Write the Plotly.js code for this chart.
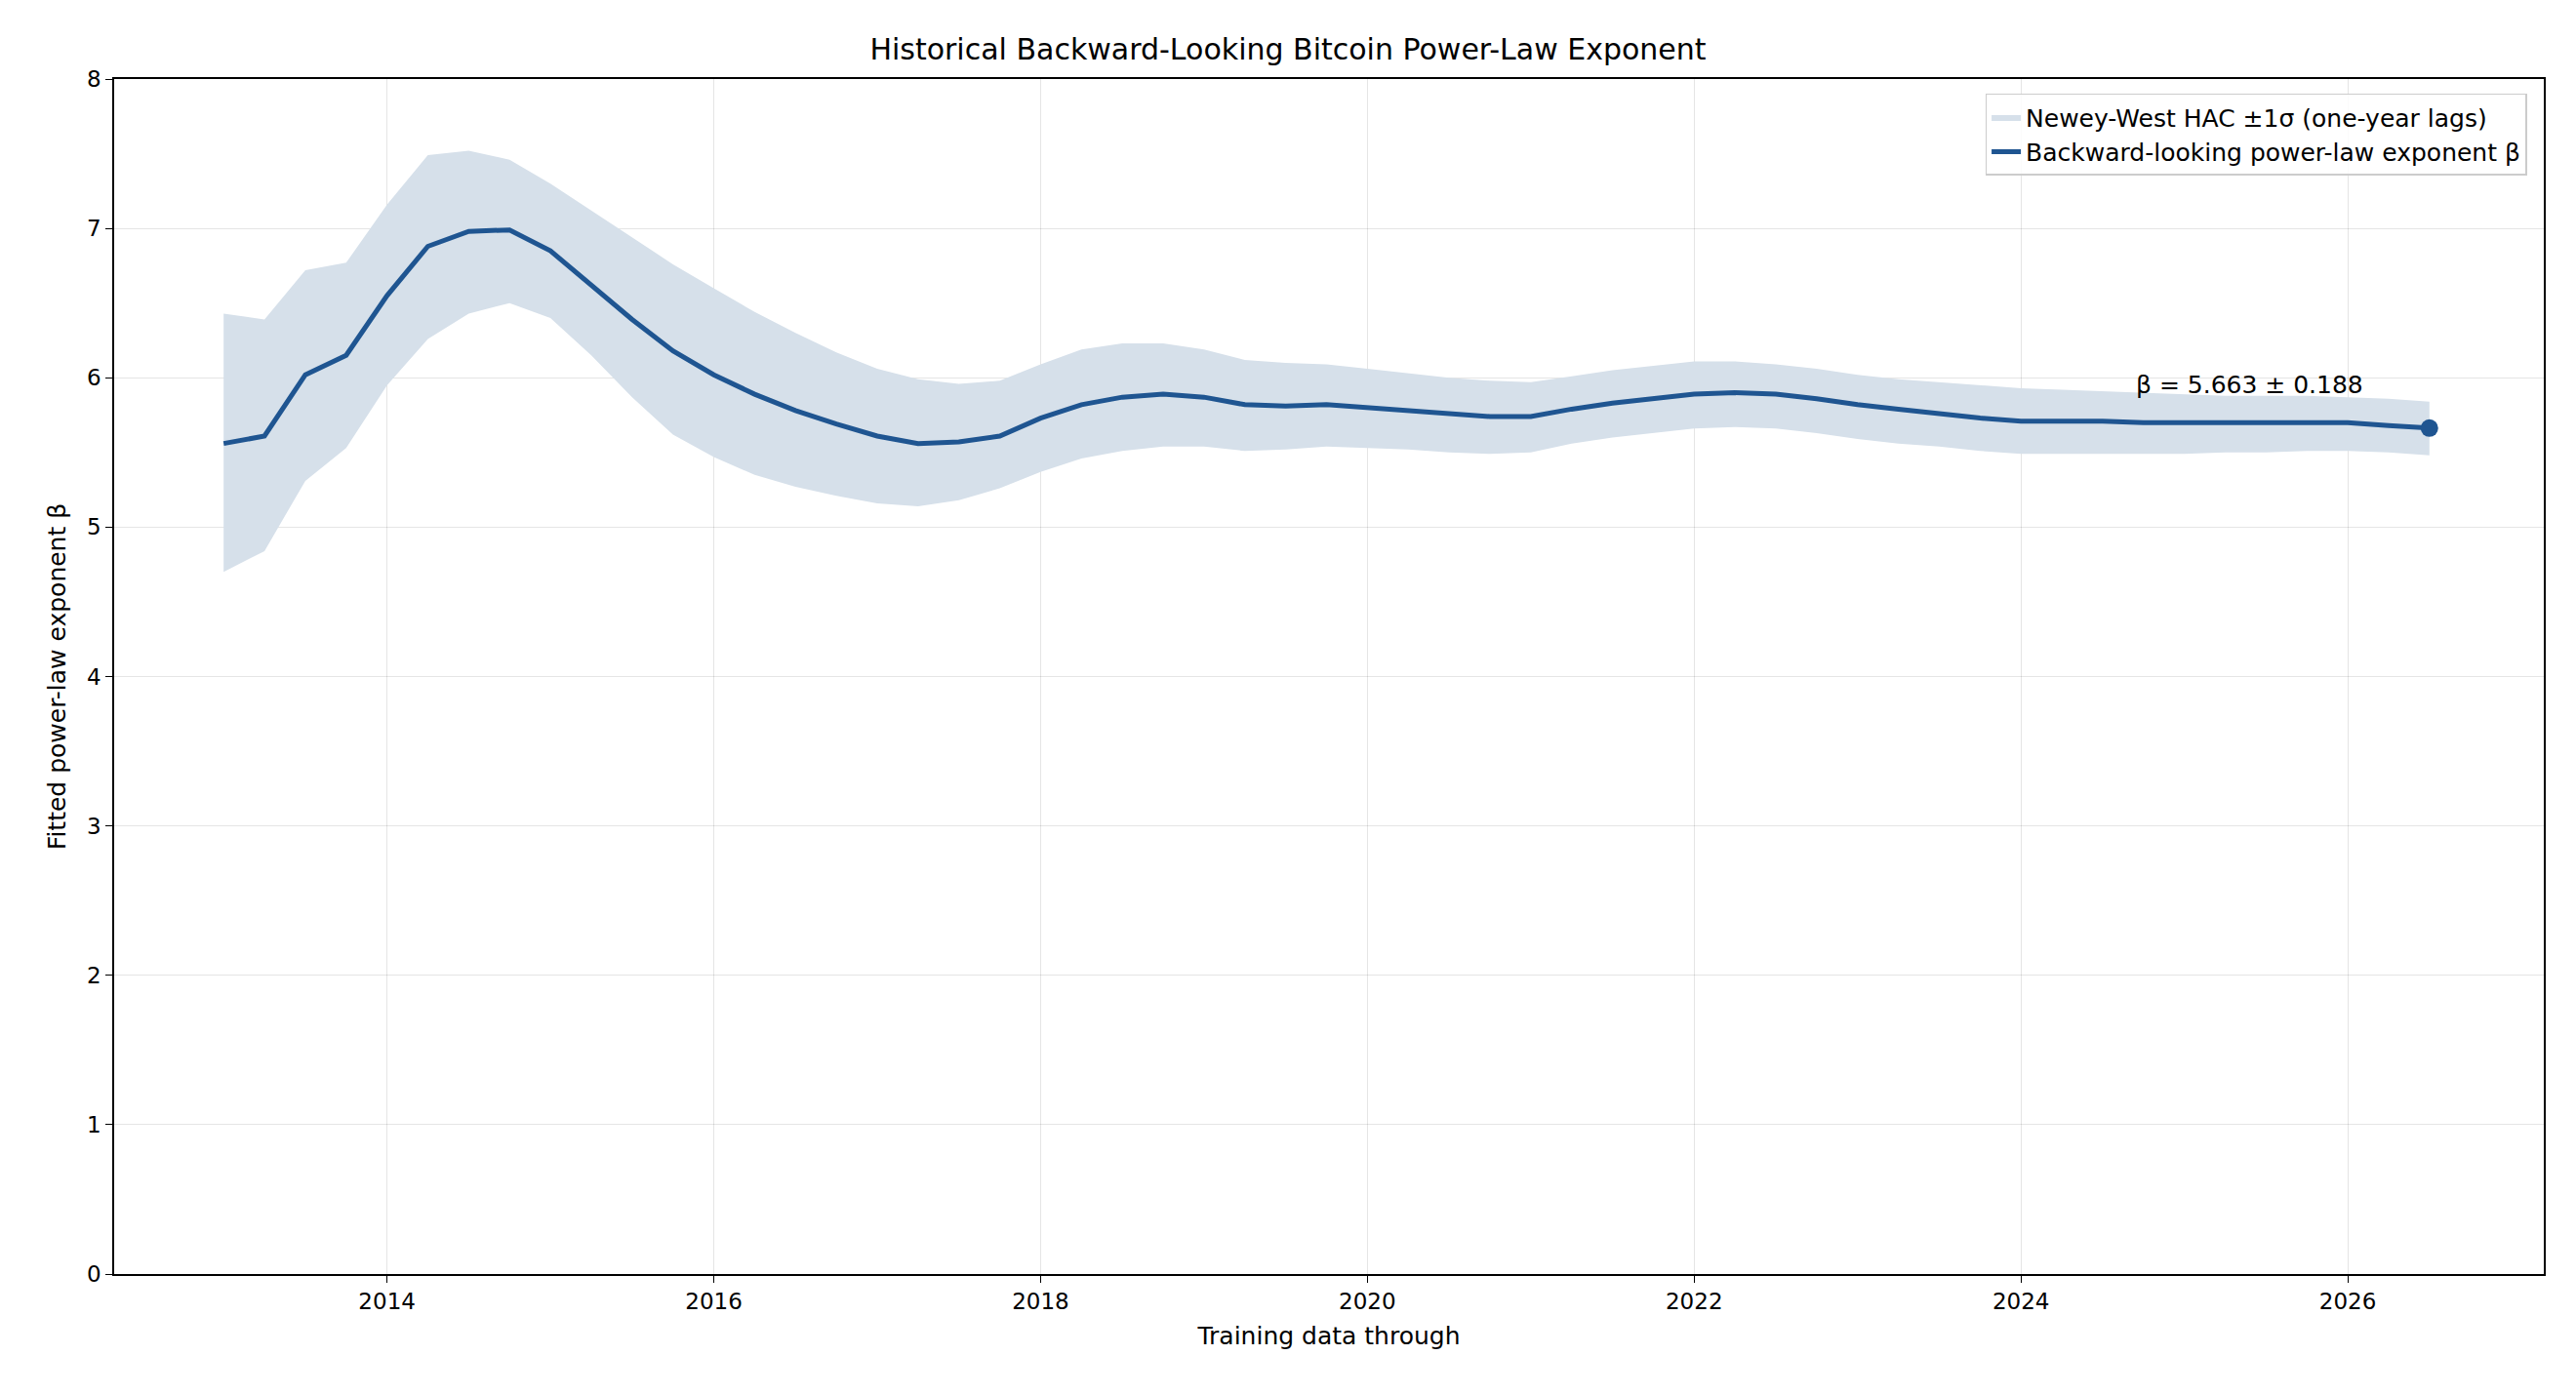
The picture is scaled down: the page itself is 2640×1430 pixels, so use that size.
<!DOCTYPE html>
<html>
<head>
<meta charset="utf-8">
<script src="https://cdn.plot.ly/plotly-3.0.1.min.js"></script>
<style>body{margin:0;background:#fff}#plot{width:2640px;height:1430px}</style>
</head>
<body>
<div id="plot"></div>
<script>
// quarterly fit dates (decimal years)
var dates = [];
for (var i = 0; i < 55; i++) dates.push(2013 + i * 0.25);

var beta = [5.56,5.61,6.02,6.15, 6.55,6.88,6.98,6.99, 6.85,6.62,6.39,6.18, 6.02,5.89,5.78,5.69,
    5.61,5.56,5.57,5.61, 5.73,5.82,5.87,5.89, 5.87,5.82,5.81,5.82, 5.80,5.78,5.76,5.74,
    5.74,5.79,5.83,5.86, 5.89,5.90,5.89,5.86, 5.82,5.79,5.76,5.73, 5.71,5.71,5.71,5.70,
    5.70,5.70,5.70,5.70, 5.70,5.68,5.663];
var upper = [6.43,6.39,6.72,6.77, 7.16,7.49,7.52,7.46, 7.30,7.12,6.94,6.76, 6.60,6.44,6.30,6.17,
    6.06,5.99,5.96,5.98, 6.09,6.19,6.23,6.23, 6.19,6.12,6.10,6.09, 6.06,6.03,6.00,5.98,
    5.97,6.01,6.05,6.08, 6.11,6.11,6.09,6.06, 6.02,5.99,5.97,5.95, 5.93,5.92,5.91,5.90,
    5.89,5.88,5.88,5.88, 5.87,5.86,5.84];
var lower = [4.70,4.84,5.31,5.53, 5.95,6.26,6.43,6.50, 6.40,6.15,5.87,5.62, 5.47,5.35,5.27,5.21,
    5.16,5.14,5.18,5.26, 5.37,5.46,5.51,5.54, 5.54,5.51,5.52,5.54, 5.53,5.52,5.50,5.49,
    5.50,5.56,5.60,5.63, 5.66,5.67,5.66,5.63, 5.59,5.56,5.54,5.51, 5.49,5.49,5.49,5.49,
    5.49,5.50,5.50,5.51, 5.51,5.50,5.48];
var xTicks = [2014,2016,2018,2020,2022,2024,2026];
var yTicks = [0,1,2,3,4,5,6,7,8];

var lineColor = '#1f5591';
var font = {family: 'DejaVu Sans', size: 22, color: '#000'};

var bandLow = {x: dates, y: lower, mode: 'lines', line: {width: 0}, showlegend: false, hoverinfo: 'skip'};
var bandHigh = {x: dates, y: upper, mode: 'lines', line: {width: 0}, fill: 'tonexty',
    fillcolor: 'rgba(214,224,234,1)', name: 'Newey-West HAC ±1σ (one-year lags)', legendrank: 1};
var line = {x: dates, y: beta, mode: 'lines', line: {color: lineColor, width: 5},
    name: 'Backward-looking power-law exponent β', legendrank: 2};
var last = {x: [dates[dates.length-1]], y: [beta[beta.length-1]], mode: 'markers',
    marker: {color: lineColor, size: 18}, showlegend: false};

function axis(title, ticks, range) {
    return {range: range, tickvals: ticks, ticks: 'outside', ticklen: 7, tickcolor: '#000',
        showline: true, linecolor: '#000', linewidth: 1.5, mirror: true,
        showgrid: true, gridcolor: 'rgba(0,0,0,0.1)', zeroline: false,
        tickfont: {size: 23}, title: {text: title, font: {size: 25}, standoff: 14}};
}

var layout = {
    width: 2640, height: 1430, font: font, plot_bgcolor: '#fff', paper_bgcolor: '#fff',
    margin: {l: 117, r: 33, t: 81, b: 124},
    title: {text: 'Historical Backward-Looking Bitcoin Power-Law Exponent', font: {size: 30}, y: 0.972},
    xaxis: axis('Training data through', xTicks, [2012.33, 2027.2]),
    yaxis: axis('Fitted power-law exponent β', yTicks, [0, 8]),
    legend: {x: 0.993, y: 0.988, xanchor: 'right', yanchor: 'top', bordercolor: '#ccc', borderwidth: 1.5,
        bgcolor: 'rgba(255,255,255,0.85)', font: {size: 25}, traceorder: 'normal'},
    annotations: [{x: 2025.4, y: 5.95, text: 'β = 5.663 ± 0.188', showarrow: false,
        font: {size: 25}, yanchor: 'middle'}]
};

Plotly.newPlot('plot', [bandLow, bandHigh, line, last], layout, {displayModeBar: false});
</script>
</body>
</html>
